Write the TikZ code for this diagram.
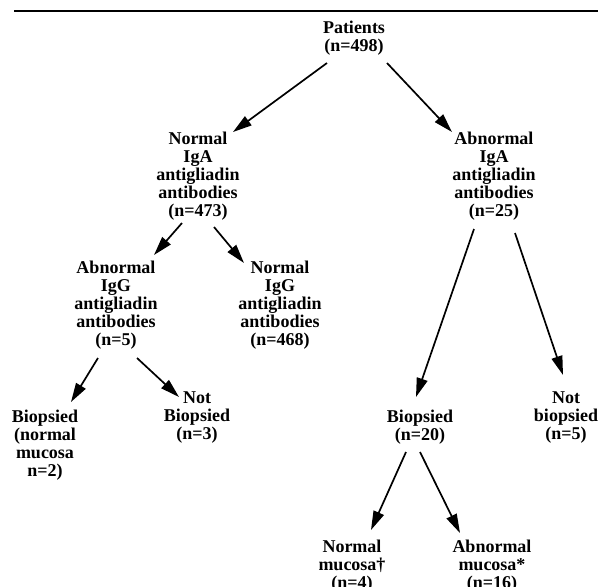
\documentclass[tikz,border=0pt]{standalone}
\usepackage{fontspec}
\setmainfont{Liberation Serif}
\usetikzlibrary{arrows.meta}
\begin{document}
\begin{tikzpicture}[x=1pt,y=-1pt,
  lbl/.style={anchor=base,align=center,inner sep=0pt,
    font=\bfseries\fontsize{18}{18.2}\selectfont},
  arr/.style={line width=1.7pt,-{Triangle[length=19pt,width=11pt]}}]
\useasboundingbox (0,0) rectangle (598,587);
\clip (0,0) rectangle (598,587);
\fill[white] (0,0) rectangle (598,587);
\coordinate (rl) at (14,11);
\coordinate (rr) at (598,11);
\draw[line width=2.4pt] (rl) -- (rr);
\node[lbl] (P) at (354,51.2) {Patients\\(n=498)};
\node[lbl] (NA) at (198,216.8) {Normal\\IgA\\antigliadin\\antibodies\\(n=473)};
\node[lbl] (AA) at (494,216.8) {Abnormal\\IgA\\antigliadin\\antibodies\\(n=25)};
\node[lbl] (AG) at (116,345.8) {Abnormal\\IgG\\antigliadin\\antibodies\\(n=5)};
\node[lbl] (NG) at (280,345.8) {Normal\\IgG\\antigliadin\\antibodies\\(n=468)};
\node[lbl] (BN) at (45,476.6) {Biopsied\\(normal\\mucosa\\n=2)};
\node[lbl] (NB1) at (197,439.4) {Not\\Biopsied\\(n=3)};
\node[lbl] (B20) at (420,440.2) {Biopsied\\(n=20)};
\node[lbl] (NB2) at (566,439.4) {Not\\biopsied\\(n=5)};
\node[lbl] (NM) at (352,588.4) {Normal\\mucosa†\\(n=4)};
\node[lbl] (AM) at (492,588.4) {Abnormal\\mucosa*\\(n=16)};
\draw[arr] ([shift={(-27,11.8)}]P.base) -- ([shift={(35,-84.8)}]NA.base);
\draw[arr] ([shift={(33,11.8)}]P.base) -- ([shift={(-42,-84.8)}]AA.base);
\draw[arr] ([shift={(-16,6.2)}]NA.base) -- ([shift={(38,-90.8)}]AG.base);
\draw[arr] ([shift={(16,10.2)}]NA.base) -- ([shift={(-36,-82.8)}]NG.base);
\draw[arr] ([shift={(-20,12.2)}]AA.base) -- ([shift={(-4,-43.2)}]B20.base);
\draw[arr] ([shift={(21,16.2)}]AA.base) -- ([shift={(-3,-64.4)}]NB2.base);
\draw[arr] ([shift={(-18,12.2)}]AG.base) -- ([shift={(26,-74.6)}]BN.base);
\draw[arr] ([shift={(21,12.2)}]AG.base) -- ([shift={(-18,-42.4)}]NB1.base);
\draw[arr] ([shift={(-14,11.8)}]B20.base) -- ([shift={(19,-58.4)}]NM.base);
\draw[arr] ([shift={(0,11.8)}]B20.base) -- ([shift={(-32,-55.4)}]AM.base);
\end{tikzpicture}
\end{document}
